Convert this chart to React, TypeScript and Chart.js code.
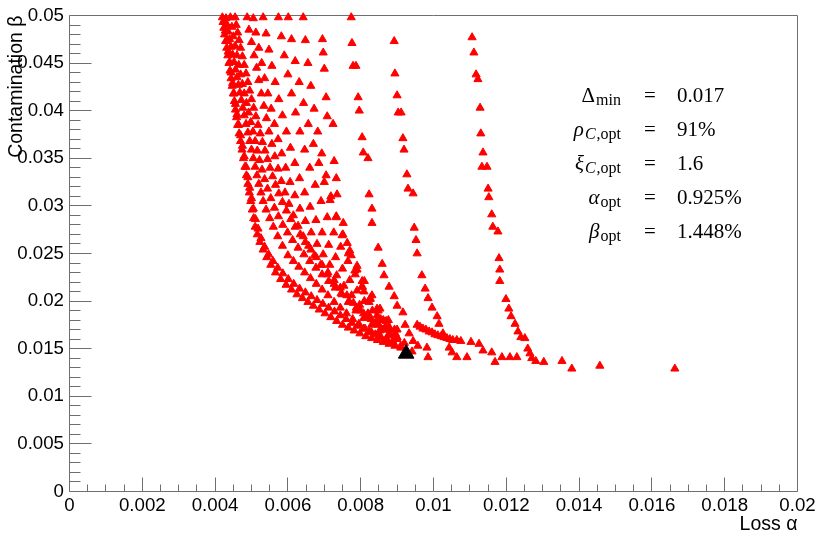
import React, { useEffect, useRef } from 'react';
import { Chart, registerables } from 'chart.js';

Chart.register(...registerables);

type Pair = [number, number]; // [loss alpha (%), contamination beta (%)]

const curve1: Pair[] = [
  [0.420, 4.98], [0.422, 4.93], [0.424, 4.87], [0.426, 4.80], [0.429, 4.73], [0.432, 4.66], [0.435, 4.58], [0.438, 4.50],
  [0.441, 4.42], [0.444, 4.34], [0.447, 4.26], [0.450, 4.18], [0.453, 4.10], [0.456, 4.01], [0.459, 3.93], [0.462, 3.85],
  [0.466, 3.76], [0.470, 3.68], [0.474, 3.59], [0.478, 3.50], [0.482, 3.41], [0.486, 3.32], [0.490, 3.23], [0.494, 3.14],
  [0.498, 3.05], [0.502, 2.96], [0.506, 2.87], [0.510, 2.78], [0.516, 2.70], [0.523, 2.62], [0.532, 2.54], [0.542, 2.46],
  [0.553, 2.38], [0.566, 2.30], [0.580, 2.23], [0.595, 2.17], [0.610, 2.12], [0.625, 2.07], [0.640, 2.03], [0.655, 1.99],
  [0.670, 1.95], [0.686, 1.91], [0.702, 1.87], [0.718, 1.83], [0.734, 1.79], [0.750, 1.75], [0.766, 1.72], [0.782, 1.69],
  [0.798, 1.66], [0.814, 1.63], [0.830, 1.61], [0.846, 1.59], [0.862, 1.57], [0.878, 1.55], [0.894, 1.53], [0.910, 1.51],
];

const curve1b: Pair[] = [
  [0.425, 4.95], [0.428, 4.84], [0.432, 4.73], [0.436, 4.62], [0.440, 4.51], [0.444, 4.40], [0.448, 4.29], [0.452, 4.18],
  [0.456, 4.07], [0.460, 3.96], [0.465, 3.85], [0.470, 3.74], [0.475, 3.63], [0.480, 3.52], [0.485, 3.41], [0.490, 3.30],
  [0.495, 3.19], [0.500, 3.08], [0.505, 2.97], [0.511, 2.86], [0.518, 2.76], [0.526, 2.66], [0.536, 2.57], [0.547, 2.49],
  [0.559, 2.42], [0.572, 2.35], [0.586, 2.29], [0.601, 2.23], [0.616, 2.18], [0.632, 2.13], [0.648, 2.09], [0.664, 2.05],
  [0.680, 2.01], [0.696, 1.97], [0.712, 1.93], [0.728, 1.89], [0.744, 1.85], [0.760, 1.81], [0.776, 1.77], [0.792, 1.74],
  [0.808, 1.71], [0.824, 1.68], [0.840, 1.65], [0.856, 1.62], [0.872, 1.60], [0.888, 1.58],
];

const curve2: Pair[] = [
  [0.430, 4.97], [0.433, 4.90], [0.436, 4.83], [0.440, 4.75], [0.444, 4.67], [0.448, 4.59], [0.452, 4.51], [0.456, 4.43],
  [0.460, 4.35], [0.464, 4.27], [0.468, 4.19], [0.472, 4.11], [0.476, 4.03], [0.480, 3.95], [0.485, 3.86], [0.490, 3.77],
  [0.495, 3.68], [0.500, 3.59], [0.505, 3.50], [0.510, 3.41], [0.515, 3.32], [0.520, 3.23], [0.526, 3.14], [0.532, 3.05],
  [0.540, 2.96], [0.550, 2.87], [0.560, 2.78], [0.572, 2.68], [0.585, 2.58], [0.600, 2.48], [0.615, 2.42], [0.630, 2.36],
  [0.646, 2.30], [0.662, 2.24], [0.678, 2.18], [0.694, 2.12], [0.710, 2.06], [0.727, 1.99], [0.744, 1.93], [0.761, 1.87],
  [0.778, 1.81], [0.795, 1.76], [0.812, 1.71], [0.830, 1.67], [0.850, 1.63], [0.870, 1.59], [0.890, 1.56], [0.910, 1.53],
];

const curve2b: Pair[] = [
  [0.442, 4.98], [0.446, 4.88], [0.450, 4.78], [0.455, 4.68], [0.460, 4.58], [0.465, 4.48], [0.470, 4.38], [0.475, 4.28],
  [0.480, 4.18], [0.486, 4.08], [0.492, 3.98], [0.498, 3.88], [0.504, 3.78], [0.510, 3.68], [0.516, 3.58], [0.522, 3.48],
  [0.529, 3.38], [0.536, 3.28], [0.544, 3.18], [0.553, 3.08], [0.563, 2.98], [0.574, 2.89], [0.586, 2.80], [0.599, 2.72],
  [0.613, 2.64], [0.628, 2.56], [0.644, 2.49], [0.660, 2.42], [0.677, 2.35], [0.694, 2.28], [0.712, 2.21], [0.730, 2.14],
  [0.749, 2.07], [0.768, 2.00], [0.788, 1.93], [0.808, 1.87], [0.829, 1.81], [0.850, 1.75], [0.872, 1.70], [0.895, 1.66],
];

const curve3: Pair[] = [
  [0.455, 4.98], [0.458, 4.90], [0.462, 4.82], [0.466, 4.74], [0.470, 4.66], [0.475, 4.57], [0.480, 4.48], [0.485, 4.39],
  [0.490, 4.30], [0.495, 4.21], [0.500, 4.12], [0.506, 4.03], [0.512, 3.94], [0.518, 3.85], [0.524, 3.76], [0.530, 3.67],
  [0.537, 3.58], [0.544, 3.49], [0.551, 3.40], [0.558, 3.31], [0.566, 3.22], [0.575, 3.13], [0.585, 3.04], [0.596, 2.95],
  [0.608, 2.86], [0.620, 2.78], [0.634, 2.70], [0.648, 2.62], [0.663, 2.54], [0.678, 2.46], [0.694, 2.38], [0.710, 2.30],
  [0.727, 2.22], [0.744, 2.14], [0.762, 2.06], [0.780, 1.98], [0.800, 1.90], [0.820, 1.83], [0.840, 1.76], [0.860, 1.70],
  [0.880, 1.65], [0.900, 1.60], [0.920, 1.56],
];

const curve4: Pair[] = [
  [0.488, 4.98], [0.493, 4.85], [0.500, 4.72], [0.507, 4.58], [0.514, 4.45], [0.520, 4.32], [0.527, 4.18], [0.534, 4.05],
  [0.541, 3.92], [0.548, 3.78], [0.556, 3.65], [0.564, 3.52], [0.573, 3.39], [0.582, 3.26], [0.592, 3.14], [0.603, 3.02],
  [0.615, 2.90], [0.628, 2.79], [0.642, 2.68], [0.657, 2.58], [0.673, 2.48], [0.690, 2.38], [0.708, 2.28], [0.727, 2.18],
  [0.746, 2.08], [0.766, 1.99], [0.787, 1.90], [0.808, 1.82], [0.830, 1.75], [0.852, 1.69], [0.875, 1.64],
];

const curve5: Pair[] = [
  [0.505, 4.97], [0.512, 4.82], [0.520, 4.66], [0.528, 4.50], [0.536, 4.34], [0.545, 4.18], [0.554, 4.02], [0.563, 3.86],
  [0.573, 3.70], [0.583, 3.55], [0.594, 3.40], [0.606, 3.25], [0.619, 3.11], [0.633, 2.97], [0.648, 2.84], [0.664, 2.72],
  [0.680, 2.60], [0.697, 2.49], [0.715, 2.38], [0.734, 2.27], [0.754, 2.16], [0.775, 2.06], [0.797, 1.96], [0.820, 1.87],
  [0.843, 1.79], [0.867, 1.72],
];

const curve6: Pair[] = [
  [0.532, 4.98], [0.540, 4.81], [0.548, 4.64], [0.556, 4.47], [0.565, 4.30], [0.575, 4.12], [0.585, 3.95], [0.596, 3.78],
  [0.607, 3.61], [0.619, 3.45], [0.632, 3.29], [0.646, 3.14], [0.661, 2.99], [0.677, 2.85], [0.694, 2.72], [0.712, 2.59],
  [0.731, 2.46], [0.750, 2.34], [0.770, 2.22], [0.790, 2.11], [0.810, 2.00], [0.832, 1.90], [0.855, 1.81], [0.878, 1.73],
];

const curve7: Pair[] = [
  [0.574, 4.98], [0.582, 4.78], [0.590, 4.58], [0.600, 4.38], [0.610, 4.18], [0.621, 3.98], [0.633, 3.78], [0.646, 3.59],
  [0.660, 3.40], [0.675, 3.22], [0.691, 3.05], [0.708, 2.88], [0.726, 2.72], [0.745, 2.57], [0.765, 2.42], [0.785, 2.28],
  [0.805, 2.15], [0.826, 2.02], [0.848, 1.90], [0.870, 1.79], [0.893, 1.70],
];

const curve8: Pair[] = [
  [0.601, 4.98], [0.610, 4.75], [0.620, 4.52], [0.631, 4.30], [0.643, 4.08], [0.656, 3.86], [0.670, 3.65], [0.685, 3.45],
  [0.700, 3.25], [0.716, 3.06], [0.733, 2.88], [0.751, 2.70], [0.770, 2.53], [0.790, 2.37], [0.810, 2.21], [0.831, 2.06],
  [0.853, 1.92], [0.876, 1.80], [0.900, 1.70],
];

const curve9: Pair[] = [
  [0.642, 4.98], [0.648, 4.74], [0.655, 4.50], [0.663, 4.26], [0.672, 4.02], [0.682, 3.78], [0.693, 3.55], [0.705, 3.32],
  [0.718, 3.10], [0.733, 2.89], [0.749, 2.69], [0.766, 2.50], [0.784, 2.32], [0.803, 2.15], [0.823, 1.99], [0.845, 1.85],
  [0.868, 1.73], [0.892, 1.64],
];

const curve10: Pair[] = [
  [0.695, 4.75], [0.697, 4.61], [0.700, 4.44], [0.705, 4.14], [0.708, 3.94], [0.724, 3.86], [0.727, 3.47], [0.733, 3.29],
  [0.735, 3.12], [0.752, 2.82], [0.763, 2.61], [0.774, 2.48], [0.790, 2.33], [0.804, 2.21], [0.809, 2.10], [0.826, 2.03],
  [0.845, 1.92], [0.862, 1.80], [0.880, 1.70], [0.900, 1.62],
];

const curve11: Pair[] = [
  [0.774, 4.98], [0.776, 4.71], [0.779, 4.47], [0.787, 4.47], [0.793, 4.14], [0.796, 4.00], [0.804, 3.72], [0.807, 3.56],
  [0.820, 3.50], [0.823, 3.12], [0.831, 2.97], [0.831, 2.82], [0.848, 2.56], [0.859, 2.39], [0.864, 2.27], [0.878, 2.15],
  [0.892, 2.05], [0.900, 1.95], [0.916, 1.88], [0.922, 1.75], [0.933, 1.66], [0.944, 1.58], [0.957, 1.53], [0.941, 1.47],
  [0.982, 1.51],
];

const curve12: Pair[] = [
  [0.892, 4.73], [0.894, 4.39], [0.900, 4.16], [0.903, 3.98], [0.911, 3.98], [0.916, 3.71], [0.919, 3.59], [0.927, 3.33],
  [0.930, 3.18], [0.944, 3.13], [0.947, 2.77], [0.952, 2.64], [0.955, 2.50], [0.968, 2.27], [0.977, 2.13], [0.985, 2.03],
  [0.996, 1.93], [1.010, 1.84], [1.015, 1.76], [1.026, 1.66], [1.043, 1.51], [1.051, 1.46], [1.064, 1.41], [1.092, 1.41],
  [0.985, 1.41], [1.169, 1.36], [1.188, 1.41], [1.210, 1.41], [1.229, 1.41],
];

const curve13: Pair[] = [
  [0.955, 1.75], [0.963, 1.73], [0.971, 1.71], [0.979, 1.70], [0.988, 1.68], [0.996, 1.67], [1.004, 1.65], [1.012, 1.64],
  [1.021, 1.63], [1.029, 1.62], [1.037, 1.61], [1.045, 1.60], [1.053, 1.59], [1.064, 1.59], [1.075, 1.58], [1.103, 1.57],
  [1.125, 1.55], [1.136, 1.48], [1.160, 1.46],
];

const curve14: Pair[] = [
  [1.106, 4.77], [1.111, 4.61], [1.117, 4.38], [1.122, 4.33], [1.128, 4.03], [1.130, 3.76], [1.136, 3.56], [1.133, 3.41],
  [1.147, 3.41], [1.150, 3.18], [1.152, 3.09], [1.160, 2.91], [1.163, 2.78], [1.177, 2.73], [1.180, 2.45], [1.182, 2.33],
  [1.182, 2.21], [1.199, 2.02], [1.207, 1.92], [1.213, 1.84], [1.224, 1.76], [1.232, 1.68], [1.240, 1.62], [1.251, 1.61],
  [1.259, 1.50], [1.265, 1.45], [1.270, 1.40], [1.281, 1.37], [1.303, 1.36], [1.353, 1.37], [1.380, 1.29], [1.457, 1.32],
  [1.663, 1.29],
];

const scanCurves: Pair[][] = [
  curve1, curve1b, curve2, curve2b, curve3, curve4, curve5, curve6, curve7, curve8, curve9, curve10, curve11, curve12,
  curve13, curve14,
];

const optimum: Pair = [0.925, 1.448];

const xMajorValues = [0, 0.002, 0.004, 0.006, 0.008, 0.01, 0.012, 0.014, 0.016, 0.018, 0.02];
const xTickLabels = ['0', '0.002', '0.004', '0.006', '0.008', '0.01', '0.012', '0.014', '0.016', '0.018', '0.02'];
const yMajorValues = [0, 0.005, 0.01, 0.015, 0.02, 0.025, 0.03, 0.035, 0.04, 0.045, 0.05];
const yTickLabels = ['0', '0.005', '0.01', '0.015', '0.02', '0.025', '0.03', '0.035', '0.04', '0.045', '0.05'];
const xMinorDivisions = 4;
const yMinorDivisions = 5;

const xTitle = 'Loss α';
const yTitle = 'Contamination β';

const annotationSymbols = ['Δ', 'ρ', 'ξ', 'α', 'β'];
const annotationSymbolItalic = [false, true, true, true, true];
const annotationSubItalic = ['', 'C', 'C', '', ''];
const annotationSubRoman = ['min', ',opt', ',opt', 'opt', 'opt'];
const annotationValues = ['0.017', '91%', '1.6', '0.925%', '1.448%'];

const SANS = '"Liberation Sans", Arial, Helvetica, sans-serif';
const SERIF = '"Liberation Serif", "Times New Roman", serif';

function buildTicks(majors: number[], divisions: number) {
  const out: { value: number }[] = [];
  for (let i = 0; i < majors.length - 1; i++) {
    const step = (majors[i + 1] - majors[i]) / divisions;
    for (let k = 0; k < divisions; k++) out.push({ value: +(majors[i] + k * step).toFixed(7) });
  }
  out.push({ value: majors[majors.length - 1] });
  return out;
}

function labelFor(value: number, majors: number[], labels: string[]) {
  const idx = majors.findIndex((m) => Math.abs(m - value) < 1e-9);
  return idx >= 0 ? labels[idx] : '';
}

export default function App() {
  const ref = useRef<HTMLCanvasElement>(null);

  useEffect(() => {
    const canvas = ref.current;
    if (!canvas) return;

    const toPoint = ([a, b]: Pair) => ({ x: a / 100, y: b / 100 });
    const scanPoints = scanCurves.flat().map(toPoint);

    const framePlugin = {
      id: 'rootFrame',
      beforeDatasetsDraw(chart: any) {
        const { ctx, chartArea: a, scales } = chart;
        const xs = scales.x;
        const ys = scales.y;
        ctx.save();
        ctx.strokeStyle = '#6f6f6f';
        ctx.lineWidth = 1;
        ctx.beginPath();
        ctx.rect(a.left, a.top, a.right - a.left, a.bottom - a.top);
        xs.ticks.forEach((t: any) => {
          const major = labelFor(t.value, xMajorValues, xTickLabels) !== '';
          const px = Math.floor(xs.getPixelForValue(t.value)) + 0.5;
          const len = major ? 14 : 7;
          ctx.moveTo(px, a.bottom);
          ctx.lineTo(px, a.bottom - len);
        });
        ys.ticks.forEach((t: any) => {
          const major = labelFor(t.value, yMajorValues, yTickLabels) !== '';
          const py = Math.floor(ys.getPixelForValue(t.value)) + 0.5;
          const len = major ? 22 : 11;
          ctx.moveTo(a.left, py);
          ctx.lineTo(a.left + len, py);
        });
        ctx.stroke();
        ctx.restore();
      },
      afterDraw(chart: any) {
        const ctx = chart.ctx as CanvasRenderingContext2D;
        const mainSize = 21;
        const subSize = 16;
        const rightEdge = 621;
        const eqCenter = 650;
        const valueLeft = 677;
        ctx.save();
        ctx.fillStyle = '#000';
        ctx.textBaseline = 'alphabetic';
        annotationSymbols.forEach((sym, i) => {
          const yb = 101.5 + i * 34;
          const symFont = `${annotationSymbolItalic[i] ? 'italic ' : ''}${mainSize}px ${SERIF}`;
          const subItFont = `italic ${subSize}px ${SERIF}`;
          const subRmFont = `${subSize}px ${SERIF}`;
          ctx.font = symFont;
          const wSym = ctx.measureText(sym).width;
          ctx.font = subItFont;
          const wIt = annotationSubItalic[i] ? ctx.measureText(annotationSubItalic[i]).width + 1 : 0;
          ctx.font = subRmFont;
          const wRm = ctx.measureText(annotationSubRoman[i]).width;
          let x = rightEdge - (wSym + 1 + wIt + wRm);
          ctx.textAlign = 'left';
          ctx.font = symFont;
          ctx.fillText(sym, x, yb);
          x += wSym + 1;
          if (annotationSubItalic[i]) {
            ctx.font = subItFont;
            ctx.fillText(annotationSubItalic[i], x, yb + 3);
            x += wIt;
          }
          ctx.font = subRmFont;
          ctx.fillText(annotationSubRoman[i], x, yb + 3);
          ctx.font = `${mainSize}px ${SERIF}`;
          ctx.textAlign = 'center';
          ctx.fillText('=', eqCenter, yb);
          ctx.textAlign = 'left';
          ctx.fillText(annotationValues[i], valueLeft, yb);
        });
        ctx.restore();
      },
    };

    const chart = new Chart(canvas, {
      type: 'scatter',
      data: {
        datasets: [
          {
            label: 'optimum',
            data: [toPoint(optimum)],
            pointStyle: 'triangle',
            pointRadius: 9,
            pointBorderWidth: 1,
            backgroundColor: '#000000',
            borderColor: '#000000',
            clip: false as any,
          },
          {
            label: 'scan',
            data: scanPoints,
            pointStyle: 'triangle',
            pointRadius: 4.7,
            pointBorderWidth: 1,
            backgroundColor: '#ff0000',
            borderColor: '#ff0000',
            clip: false as any,
          },
        ],
      },
      options: {
        responsive: false,
        animation: false,
        events: [],
        layout: { padding: { top: 15.5, right: 20.5, left: 0, bottom: 0 } },
        plugins: {
          legend: { display: false },
          tooltip: { enabled: false },
        },
        scales: {
          x: {
            type: 'linear',
            min: 0,
            max: 0.02,
            grid: { display: false, drawTicks: false },
            border: { display: false },
            afterBuildTicks: (scale: any) => {
              scale.ticks = buildTicks(xMajorValues, xMinorDivisions);
            },
            afterFit: (scale: any) => {
              scale.height = 42.5;
              scale.paddingLeft = 0;
              scale.paddingRight = 0;
            },
            ticks: {
              autoSkip: false,
              maxRotation: 0,
              minRotation: 0,
              padding: 3,
              color: '#000',
              font: { family: SANS, size: 18.7 },
              callback: (v: any) => labelFor(Number(v), xMajorValues, xTickLabels),
            },
            title: {
              display: true,
              text: xTitle,
              align: 'end',
              color: '#000',
              font: { family: SANS, size: 19.5, lineHeight: 1 },
              padding: { top: 0, bottom: 0 },
            },
          },
          y: {
            type: 'linear',
            min: 0,
            max: 0.05,
            grid: { display: false, drawTicks: false },
            border: { display: false },
            afterBuildTicks: (scale: any) => {
              scale.ticks = buildTicks(yMajorValues, yMinorDivisions);
            },
            afterFit: (scale: any) => {
              scale.width = 69.5;
              scale.paddingTop = 0;
              scale.paddingBottom = 0;
            },
            ticks: {
              autoSkip: false,
              padding: 5.5,
              color: '#000',
              font: { family: SANS, size: 18.7 },
              callback: (v: any) => labelFor(Number(v), yMajorValues, yTickLabels),
            },
            title: {
              display: true,
              text: yTitle,
              align: 'end',
              color: '#000',
              font: { family: SANS, size: 19.5, lineHeight: 1 },
              padding: { top: 7, bottom: 0 },
            },
          },
        },
      },
      plugins: [framePlugin],
    });

    return () => chart.destroy();
  }, []);

  return (
    <div style={{ position: 'fixed', left: 0, top: 0, width: 818, height: 534, background: '#ffffff' }}>
      <canvas ref={ref} width={818} height={534} style={{ display: 'block' }} />
    </div>
  );
}
